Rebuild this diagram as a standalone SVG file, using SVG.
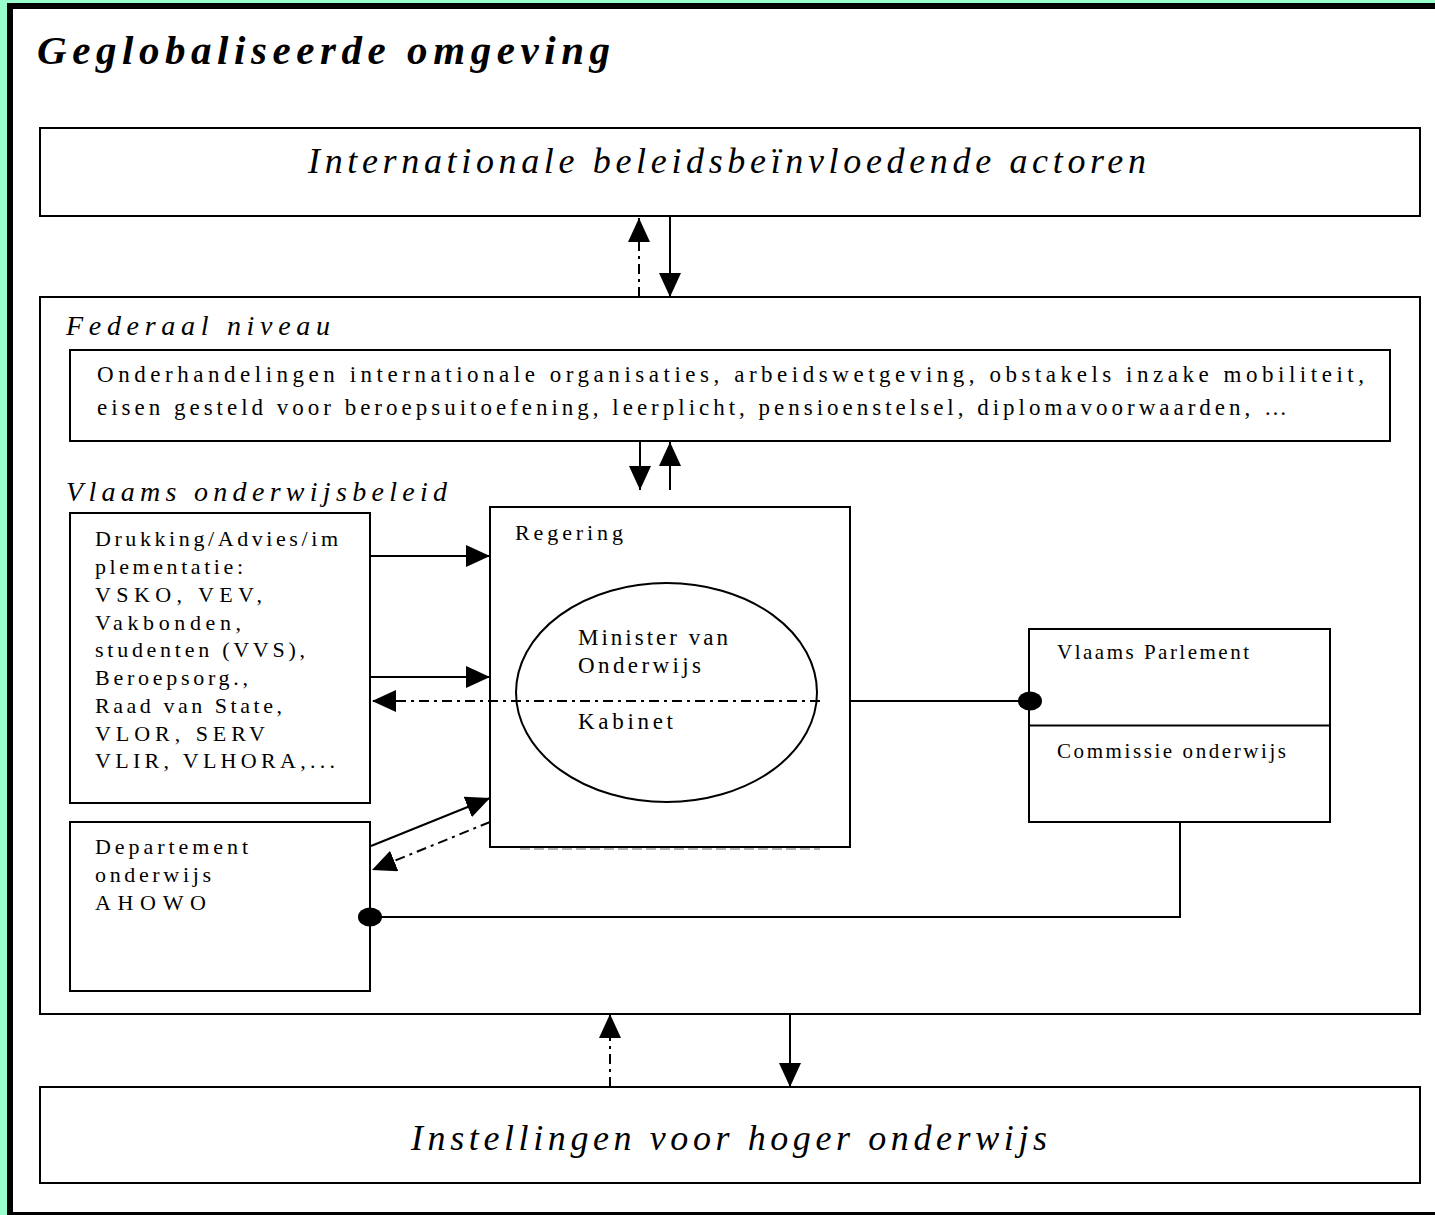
<svg xmlns="http://www.w3.org/2000/svg" width="1435" height="1215" viewBox="0 0 1435 1215">
<style>
text{font-family:"Liberation Serif","Times New Roman",serif;fill:#000}
.box{fill:#fff;stroke:#000;stroke-width:2}
.big{font-size:36px;font-style:italic}
.sec{font-size:28px;font-style:italic}
.t{font-size:22px}
.ln{stroke:#000;stroke-width:2;fill:none}
.dd{stroke-dasharray:10 5 3 5}
.arr{marker-end:url(#ah)}
.dot{fill:#000}
</style>
<defs>
<marker id="ah" viewBox="0 0 24 22" markerWidth="24" markerHeight="22" refX="24" refY="11" orient="auto" markerUnits="userSpaceOnUse">
<path d="M0,0 L24,11 L0,22 z" fill="#000"/>
</marker>
</defs>
<rect x="0" y="0" width="1435" height="1215" fill="#96FFCC"/>
<rect x="7" y="3" width="1440" height="1212" fill="#000"/>
<rect x="13" y="9" width="1430" height="1203" fill="#fff"/>
<text x="37" y="64" font-size="41" font-weight="bold" font-style="italic" textLength="573" lengthAdjust="spacing">Geglobaliseerde omgeving</text>

<g id="internationaal">
<rect class="box" x="40" y="128" width="1380" height="88"/>
<text class="big" x="308" y="173" textLength="838" lengthAdjust="spacing">Internationale beleidsbeïnvloedende actoren</text>
</g>

<g id="federaal-niveau">
<rect class="box" x="40" y="297" width="1380" height="717"/>
<text class="sec" x="66" y="335" textLength="264" lengthAdjust="spacing">Federaal niveau</text>
<text class="sec" x="66" y="501" textLength="381" lengthAdjust="spacing">Vlaams onderwijsbeleid</text>
</g>

<g id="federaal-bevoegdheden">
<rect class="box" x="70" y="350" width="1320" height="91"/>
<text x="97" y="382" font-size="23" textLength="1267" lengthAdjust="spacing">Onderhandelingen internationale organisaties, arbeidswetgeving, obstakels inzake mobiliteit,</text>
<text x="97" y="415" font-size="23" textLength="1190" lengthAdjust="spacing">eisen gesteld voor beroepsuitoefening, leerplicht, pensioenstelsel, diplomavoorwaarden, …</text>
</g>

<g id="drukking">
<rect class="box" x="70" y="513" width="300" height="290"/>
<text class="t" x="95" y="546" textLength="243" lengthAdjust="spacing">Drukking/Advies/im</text>
<text class="t" x="95" y="574" textLength="148" lengthAdjust="spacing">plementatie:</text>
<text class="t" x="95" y="602" textLength="167" lengthAdjust="spacing">VSKO, VEV,</text>
<text class="t" x="95" y="630" textLength="146" lengthAdjust="spacing">Vakbonden,</text>
<text class="t" x="95" y="657" textLength="210" lengthAdjust="spacing">studenten (VVS),</text>
<text class="t" x="95" y="685" textLength="153" lengthAdjust="spacing">Beroepsorg.,</text>
<text class="t" x="95" y="713" textLength="187" lengthAdjust="spacing">Raad van State,</text>
<text class="t" x="95" y="741" textLength="170" lengthAdjust="spacing">VLOR, SERV</text>
<text class="t" x="95" y="768" textLength="240" lengthAdjust="spacing">VLIR, VLHORA,...</text>
</g>

<g id="regering">
<rect class="box" x="490" y="507" width="360" height="340"/>
<line x1="520" y1="849" x2="820" y2="849" stroke="#999" stroke-width="1.5" stroke-dasharray="10 4"/>
<text class="t" x="515" y="540" textLength="108" lengthAdjust="spacing">Regering</text>
</g>

<g id="minister">
<ellipse cx="666.5" cy="692.5" rx="150.5" ry="109.5" fill="none" stroke="#000" stroke-width="2"/>
<text x="578" y="645" font-size="23" textLength="150" lengthAdjust="spacing">Minister van</text>
<text x="578" y="673" font-size="23" textLength="123" lengthAdjust="spacing">Onderwijs</text>
<text x="578" y="729" font-size="23" textLength="95" lengthAdjust="spacing">Kabinet</text>
</g>

<g id="vlaams-parlement">
<rect class="box" x="1029" y="629" width="301" height="193"/>
<line class="ln" x1="1029" y1="725.5" x2="1330" y2="725.5"/>
<text x="1057" y="659" font-size="21" textLength="192" lengthAdjust="spacing">Vlaams Parlement</text>
<text x="1057" y="758" font-size="21" textLength="229" lengthAdjust="spacing">Commissie onderwijs</text>
</g>

<g id="departement">
<rect class="box" x="70" y="822" width="300" height="169"/>
<text class="t" x="95" y="854" textLength="153" lengthAdjust="spacing">Departement</text>
<text class="t" x="95" y="882" textLength="116" lengthAdjust="spacing">onderwijs</text>
<text class="t" x="95" y="910" textLength="111" lengthAdjust="spacing">AHOWO</text>
</g>

<g id="instellingen">
<rect class="box" x="40" y="1087" width="1380" height="96"/>
<text class="big" x="411" y="1150" textLength="636" lengthAdjust="spacing">Instellingen voor hoger onderwijs</text>
</g>

<g id="connectors">
<line class="ln dd arr" x1="639" y1="297" x2="639" y2="218"/>
<line class="ln arr" x1="670" y1="217" x2="670" y2="297"/>
<line class="ln arr" x1="640" y1="441" x2="640" y2="490"/>
<line class="ln arr" x1="670" y1="490" x2="670" y2="442"/>
<line class="ln arr" x1="371" y1="556" x2="490" y2="556"/>
<line class="ln arr" x1="371" y1="677" x2="490" y2="677"/>
<line class="ln dd arr" x1="820" y1="701" x2="372" y2="701"/>
<line class="ln" x1="850" y1="701" x2="1030" y2="701"/>
<ellipse class="dot" cx="1030" cy="701" rx="12" ry="9.5"/>
<line class="ln arr" x1="371" y1="846" x2="490" y2="798"/>
<line class="ln dd arr" x1="490" y1="822" x2="372" y2="870"/>
<polyline class="ln" points="1180,822 1180,917 370,917"/>
<ellipse class="dot" cx="370" cy="917" rx="12" ry="9.5"/>
<line class="ln dd arr" x1="610" y1="1087" x2="610" y2="1014"/>
<line class="ln arr" x1="790" y1="1015" x2="790" y2="1087"/>
</g>
</svg>
